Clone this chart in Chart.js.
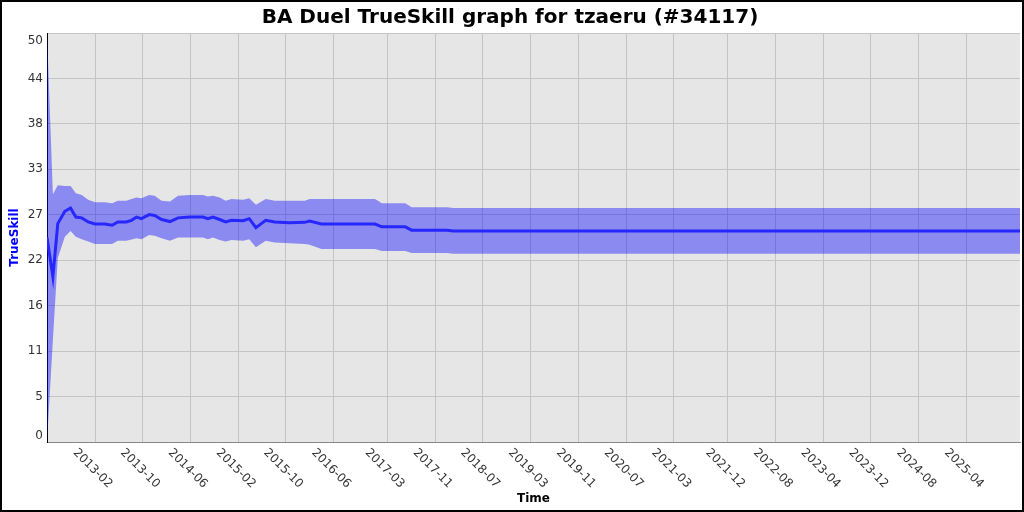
<!doctype html>
<html>

<head>
	<title>BA Duel TrueSkill graph</title>
	<script src="https://cdn.jsdelivr.net/npm/chart.js@4/dist/chart.umd.min.js"></script>
	<style>
	html, body {
		margin: 0;
		padding: 0;
		background: #fff;
	}
	</style>
</head>

<body>
	<canvas id="chart" width="1024" height="512"></canvas>
	<script>
		var dates = ['2012-06-01', '2012-07-01', '2012-07-26', '2012-08-31', '2012-09-29', '2012-10-26',
			'2012-11-25', '2012-12-28', '2013-02-01', '2013-03-22', '2013-04-29', '2013-05-28',
			'2013-07-10', '2013-08-06', '2013-08-31', '2013-09-25', '2013-11-04', '2013-12-02',
			'2014-01-06', '2014-02-18', '2014-03-31', '2014-05-31', '2014-08-05', '2014-08-30',
			'2014-09-25', '2014-10-29', '2014-11-29', '2014-12-28', '2015-02-26', '2015-03-29',
			'2015-05-02', '2015-06-21', '2015-08-06', '2015-10-22', '2016-01-06', '2016-01-31',
			'2016-03-31', '2016-12-29', '2017-02-02', '2017-06-01', '2017-07-04', '2017-12-30',
			'2018-02-02', '2025-12-30'];
		var trueSkill = [25.0, 20.2, 26.7, 28.2, 28.6, 27.5,
			27.4, 26.9, 26.65, 26.65, 26.5, 26.9,
			26.9, 27.1, 27.5, 27.3, 27.8, 27.7,
			27.2, 26.95, 27.4, 27.5, 27.5, 27.3,
			27.5, 27.2, 26.9, 27.1, 27.05, 27.3,
			26.2, 27.1, 26.9, 26.8, 26.85, 27.0,
			26.65, 26.65, 26.3, 26.3, 25.9, 25.9,
			25.8, 25.8];
		var upperBound = [50.0, 30.3, 31.4, 31.3, 31.3, 30.4,
			30.2, 29.6, 29.3, 29.3, 29.2, 29.5,
			29.5, 29.7, 29.9, 29.8, 30.2, 30.1,
			29.5, 29.4, 30.1, 30.2, 30.2, 30.0,
			30.1, 29.9, 29.5, 29.7, 29.6, 29.8,
			29.0, 29.7, 29.5, 29.5, 29.5, 29.7,
			29.7, 29.7, 29.2, 29.2, 28.7, 28.7,
			28.6, 28.6];
		var lowerBound = [0.0, 12.5, 22.5, 25.1, 25.8, 25.1,
			24.8, 24.5, 24.2, 24.2, 24.2, 24.6,
			24.6, 24.75, 24.9, 24.8, 25.3, 25.2,
			24.9, 24.6, 25.0, 25.0, 25.0, 24.8,
			25.0, 24.7, 24.5, 24.7, 24.6, 24.8,
			23.8, 24.6, 24.4, 24.3, 24.2, 24.1,
			23.6, 23.6, 23.35, 23.35, 23.1, 23.1,
			23.0, 23.0];

		var xTickLabels = ['2013-02', '2013-10', '2014-06', '2015-02', '2015-10', '2016-06', '2017-03',
			'2017-11', '2018-07', '2019-03', '2019-11', '2020-07', '2021-03', '2021-12', '2022-08',
			'2023-04', '2023-12', '2024-08', '2025-04'];
		var yTickValues = [0, 5.556, 11.111, 16.667, 22.222, 27.778, 33.333, 38.889, 44.444, 50];
		var yTickLabels = ['0', '5', '11', '16', '22', '27', '33', '38', '44', '50'];

		var FONT = 'DejaVu Sans';
		var times = dates.map(function(d) { return Date.parse(d); });
		var xTickValues = xTickLabels.map(function(l) { return Date.parse(l + '-01'); });

		function points(values) {
			return values.map(function(v, i) { return {x: times[i], y: v}; });
		}

		var frame = {
			id: 'frame',
			beforeDraw: function(chart) {
				var ctx = chart.ctx, a = chart.chartArea;
				ctx.save();
				ctx.fillStyle = '#fff';
				ctx.fillRect(0, 0, chart.width, chart.height);
				ctx.fillStyle = '#e6e6e6';
				ctx.fillRect(a.left, a.top, a.right - a.left, a.bottom - a.top);
				ctx.restore();
			},
			afterDraw: function(chart) {
				var ctx = chart.ctx, a = chart.chartArea;
				var xs = chart.scales.x, ys = chart.scales.y;
				ctx.save();
				ctx.font = '12px "' + FONT + '"';
				ctx.fillStyle = '#333';

				// y labels, pushed inside at the ends like the original
				ctx.textAlign = 'right';
				ctx.textBaseline = 'middle';
				yTickValues.forEach(function(v, i) {
					var y = ys.getPixelForValue(v);
					y = Math.max(y, a.top + 8);
					y = Math.min(y, a.bottom - 6);
					ctx.fillText(yTickLabels[i], a.left - 4, y);
				});

				// x labels rotated clockwise
				ctx.textAlign = 'center';
				xTickValues.forEach(function(v, i) {
					var x = xs.getPixelForValue(v);
					ctx.save();
					ctx.translate(x - 2.5, a.bottom + 26.5);
					ctx.rotate(Math.PI / 4);
					ctx.fillText(xTickLabels[i], 0, 0);
					ctx.restore();
				});

				ctx.strokeStyle = '#000';
				ctx.lineWidth = 2;
				ctx.strokeRect(1, 1, chart.width - 2, chart.height - 2);
				ctx.restore();
			}
		};

		new Chart(document.getElementById('chart').getContext('2d'), {
			type: 'line',
			data: {
				datasets: [{
					label: 'upper',
					data: points(upperBound),
					borderWidth: 0,
					borderColor: 'transparent',
					backgroundColor: 'rgba(0, 0, 255, 0.4)',
					pointRadius: 0,
					fill: '+1'
				}, {
					label: 'lower',
					data: points(lowerBound),
					borderWidth: 0,
					borderColor: 'transparent',
					pointRadius: 0,
					fill: false
				}, {
					label: 'TrueSkill',
					data: points(trueSkill),
					borderColor: '#4040ff',
					borderWidth: 3,
					pointRadius: 0,
					fill: false
				}]
			},
			options: {
				responsive: false,
				animation: false,
				layout: {padding: {left: 0, right: 4, top: 0, bottom: 0}},
				plugins: {
					legend: {display: false},
					tooltip: {enabled: false},
					title: {
						display: true,
						text: 'BA Duel TrueSkill graph for tzaeru (#34117)',
						color: '#000',
						font: {family: FONT, size: 20, weight: 'bold'},
						padding: {top: 6, bottom: 3}
					}
				},
				scales: {
					x: {
						type: 'linear',
						min: times[0],
						max: times[times.length - 1],
						afterBuildTicks: function(scale) {
							scale.ticks = xTickValues.map(function(v) { return {value: v}; });
						},
						afterFit: function(scale) { scale.height = 70; },
						ticks: {display: false},
						grid: {color: '#c4c4c4', drawTicks: false},
						border: {color: '#888'},
						title: {
							display: true,
							text: 'Time',
							color: '#000',
							font: {family: FONT, size: 12, weight: 'bold'},
							padding: {top: 0, bottom: 6}
						}
					},
					y: {
						min: 0,
						max: 50,
						afterBuildTicks: function(scale) {
							scale.ticks = yTickValues.map(function(v) { return {value: v}; });
						},
						afterFit: function(scale) { scale.width = 47; },
						ticks: {display: false},
						grid: {color: '#c4c4c4', drawTicks: false},
						border: {color: '#000'},
						title: {
							display: true,
							text: 'TrueSkill',
							color: '#0000ff',
							font: {family: FONT, size: 12, weight: 'bold'},
							padding: {top: 8, bottom: 0}
						}
					}
				}
			},
			plugins: [frame]
		});
	</script>
</body>

</html>
